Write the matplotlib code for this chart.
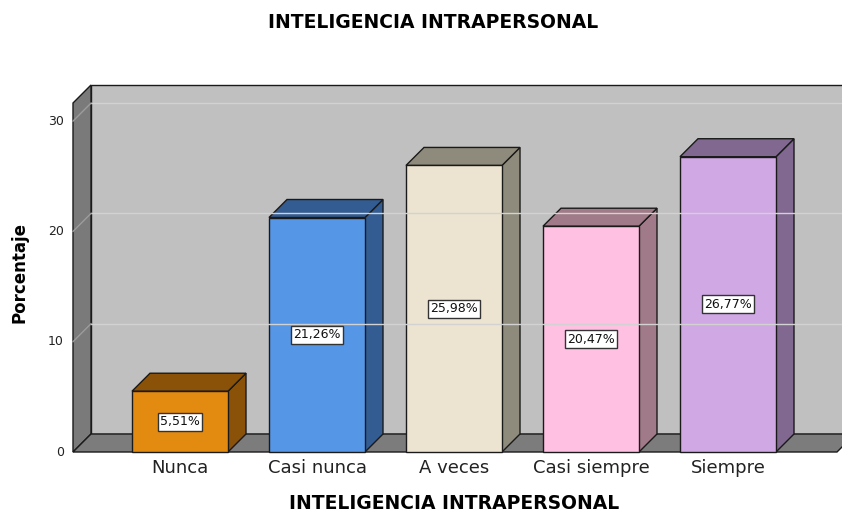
import matplotlib.pyplot as plt
from matplotlib.patches import Polygon

plt.rcParams['font.family'] = ['DejaVu Sans']

# Datos
categorias = ["Nunca", "Casi nunca", "A veces", "Casi siempre", "Siempre"]
porcentajes = [5.51, 21.26, 25.98, 20.47, 26.77]
etiquetas = ["5,51%", "21,26%", "25,98%", "20,47%", "26,77%"]
ticks_y = [0, 10, 20, 30]
colores_frente = ["#E38B10", "#5596E6", "#ECE4D0", "#FFC0E2", "#D0A8E4"]
colores_lado = ["#8A5208", "#335C92", "#8E8B7C", "#A07A88", "#806890"]

# Geometria (unidades de datos: x = categoria, y = porcentaje)
px_x = 137.0   # pixeles por categoria
px_y = 11.03   # pixeles por unidad de porcentaje
dx = 18 / px_x   # profundidad 3D en x
dy = 18 / px_y   # profundidad 3D en y
ancho = 96 / px_x
x_izq = (73 - 180) / px_x
x_der = (837 - 180) / px_x
y_max = 31.64

fig = plt.figure(figsize=(8.42, 5.11), dpi=100)
ax = fig.add_axes([0, 0, 1, 1])
ax.set_xlim(-180 / px_x, (842 - 180) / px_x)
ax.set_ylim(-(511 - 452) / px_y, 452 / px_y)
ax.axis("off")

borde = "#1a1a1a"

# Pared de fondo
ax.add_patch(Polygon([(x_izq + dx, dy), (x_der + dx, dy), (x_der + dx, y_max + dy),
                      (x_izq + dx, y_max + dy)], closed=True, fc="#C0C0C0", ec=borde, lw=1))
# Pared izquierda
ax.add_patch(Polygon([(x_izq, 0), (x_izq + dx, dy), (x_izq + dx, y_max + dy), (x_izq, y_max)],
                     closed=True, fc="#7A7A7A", ec=borde, lw=1))
# Suelo
ax.add_patch(Polygon([(x_izq, 0), (x_der, 0), (x_der + dx, dy), (x_izq + dx, dy)],
                     closed=True, fc="#7C7C7C", ec=borde, lw=1))

# Lineas de cuadricula
for t in ticks_y[1:]:
    ax.plot([x_izq + dx, x_der + dx], [t + dy, t + dy], color="#D2D2D2", lw=1)
    ax.plot([x_izq, x_izq + dx], [t, t + dy], color="#9C9C9C", lw=1)

# Etiquetas del eje y
for t in ticks_y:
    ax.text(x_izq - 9 / px_x, t, str(t), ha="right", va="center", fontsize=9, color="#222222")

# Barras 3D
for i, (v, cf, cl) in enumerate(zip(porcentajes, colores_frente, colores_lado)):
    x0 = i - ancho / 2
    x1 = i + ancho / 2
    ax.add_patch(Polygon([(x1, 0), (x1 + dx, dy), (x1 + dx, v + dy), (x1, v)],
                         closed=True, fc=cl, ec=borde, lw=1))
    ax.add_patch(Polygon([(x0, v), (x1, v), (x1 + dx, v + dy), (x0 + dx, v + dy)],
                         closed=True, fc=cl, ec=borde, lw=1))
    ax.add_patch(Polygon([(x0, 0), (x1, 0), (x1, v), (x0, v)],
                         closed=True, fc=cf, ec=borde, lw=1))
    ax.text(i, v / 2, etiquetas[i], ha="center", va="center", fontsize=9, color="#111111",
            bbox=dict(boxstyle="square,pad=0.2", fc="white", ec="#333333", lw=1))
    ax.text(i, -16 / px_y, categorias[i], ha="center", va="center", fontsize=13, color="#222222")

# Titulos
ax.text(x_izq - 53 / px_x, 16.3, "Porcentaje", rotation=90, ha="center", va="center",
        fontsize=12, fontweight="bold")
ax.text((454 - 180) / px_x, -51 / px_y, "INTELIGENCIA INTRAPERSONAL", ha="center", va="center",
        fontsize=13.5, fontweight="bold")
fig.text(433 / 842, 1 - 22 / 511, "INTELIGENCIA INTRAPERSONAL", ha="center", va="center",
         fontsize=13.5, fontweight="bold")

fig.savefig("out.png", dpi=100)
